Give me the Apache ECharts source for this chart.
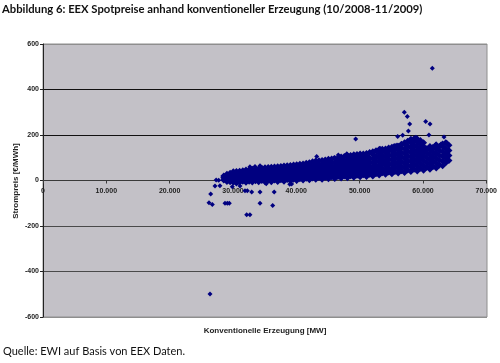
<!DOCTYPE html>
<html><head><meta charset="utf-8">
<script src="https://cdn.jsdelivr.net/npm/echarts@6/dist/echarts.min.js"></script>
<style>html,body{margin:0;padding:0;background:#fff}#c{width:500px;height:363px}</style>
</head><body><div id="c"></div>
<script>
const titel = 'Abbildung 6: EEX Spotpreise anhand konventioneller Erzeugung (10/2008-11/2009)';
const quelle = 'Quelle: EWI auf Basis von EEX Daten.';
const xAchsenName = 'Konventionelle Erzeugung [MW]';
const yAchsenName = 'Strompreis [€/MWh]';
const xTickWerte = [0, 10000, 20000, 30000, 40000, 50000, 60000, 70000];
const xTickLabels = ['0', '10.000', '20.000', '30.000', '40.000', '50.000', '60.000', '70.000'];
const yTickWerte = [-600, -400, -200, 0, 200, 400, 600];
const yTickLabels = ['-600', '-400', '-200', '0', '200', '400', '600'];

// dense cloud, read column by column (MW) with prices (EUR/MWh)
const wolkeMW = [28500, 29000, 29500, 30000, 30500, 31000, 31500, 32000, 32500, 33000, 33500, 34000, 34500, 35000, 35500, 36000, 36500, 37000, 37500, 38000, 38500, 39000, 39500, 40000, 40500, 41000, 41500, 42000, 42500, 43000, 43500, 44000, 44500, 45000, 45500, 46000, 46500, 47000, 47500, 48000, 48500, 49000, 49500, 50000, 50500, 51000, 51500, 52000, 52500, 53000, 53500, 54000, 54500, 55000, 55500, 56000, 56500, 57000, 57500, 58000, 58500, 59000, 59500, 60000, 60500, 61000, 61500, 62000, 62500, 63000, 63500, 64000];
const wolkePreise = [
  [2, 12, 20],
  [-4, 8, 20, 28],
  [-6, 4, 14, 24, 32],
  [-8, 3, 15, 27, 38],
  [-4, 8, 20, 32, 40],
  [-8, 4, 16, 28, 41],
  [-3, 9, 21, 33, 43],
  [-8, 4, 16, 28, 40, 46],
  [-3, 10, 22, 34, 47],
  [-7, 6, 19, 32, 44, 49],
  [-1, 12, 25, 38, 50],
  [-6, 7, 20, 33, 46, 52],
  [0, 13, 26, 40, 54],
  [-6, 8, 22, 36, 49, 56],
  [1, 15, 29, 43, 57],
  [-5, 9, 23, 37, 51, 58],
  [2, 16, 30, 44, 59],
  [-4, 10, 24, 38, 52, 60],
  [3, 17, 31, 45, 62],
  [-3, 11, 25, 39, 53, 64],
  [4, 18, 32, 46, 60, 65],
  [-1, 12, 26, 40, 54, 66],
  [6, 20, 34, 48, 62, 68],
  [0, 14, 28, 42, 56, 69],
  [8, 22, 36, 50, 64, 71],
  [2, 16, 30, 44, 58, 73],
  [10, 24, 38, 52, 66, 76],
  [3, 18, 33, 48, 63, 78],
  [11, 26, 41, 56, 71, 82],
  [5, 20, 35, 50, 65, 80, 86],
  [13, 28, 43, 58, 73, 87],
  [6, 22, 38, 54, 70, 88],
  [14, 30, 46, 62, 78, 90],
  [8, 24, 40, 56, 72, 88, 93],
  [16, 32, 48, 64, 80, 95],
  [9, 26, 43, 60, 77, 97],
  [18, 35, 52, 69, 86, 99],
  [11, 28, 45, 62, 79, 96, 103],
  [20, 37, 54, 71, 88, 106],
  [12, 30, 48, 66, 84, 102, 109],
  [21, 39, 57, 75, 93, 110],
  [14, 32, 50, 68, 86, 104, 113],
  [23, 41, 59, 77, 95, 114],
  [16, 34, 52, 70, 88, 106, 117],
  [25, 43, 61, 79, 97, 117],
  [18, 36, 54, 72, 90, 108, 119],
  [27, 45, 63, 81, 99, 123],
  [20, 39, 58, 77, 96, 115, 126],
  [30, 49, 68, 87, 106, 131],
  [24, 43, 62, 81, 100, 119, 136],
  [34, 53, 72, 91, 110, 129, 137],
  [28, 47, 66, 85, 104, 123, 139],
  [37, 56, 75, 94, 113, 132, 143],
  [30, 50, 70, 90, 110, 130, 146],
  [40, 60, 80, 100, 120, 140, 149],
  [33, 53, 73, 93, 113, 133, 151],
  [43, 63, 83, 103, 123, 143, 159],
  [35, 56, 77, 98, 119, 140, 161, 166],
  [46, 67, 88, 109, 130, 151, 173],
  [40, 61, 82, 103, 124, 145, 166, 181],
  [50, 71, 92, 113, 134, 155, 176, 183],
  [42, 63, 84, 105, 126, 147, 168, 182],
  [54, 75, 96, 117, 138, 159, 176],
  [45, 66, 87, 108, 129, 150, 166],
  [58, 79, 100, 121, 140],
  [50, 71, 92, 113, 134, 150],
  [62, 83, 104, 125, 146],
  [55, 76, 97, 118, 139, 156],
  [68, 89, 110, 131, 150],
  [65, 86, 107, 128, 149, 160],
  [78, 99, 120, 141, 166],
  [88, 110, 132, 155]
];

const ausreisserUnten = [
  [26330, -499], [26170, -98], [26690, -106], [26440, -59], [27120, -24], [27900, -23],
  [27300, 2], [27700, 1], [28690, -100], [29060, -100], [29370, -100], [29850, -27],
  [31060, -24], [31850, -45], [32210, -45], [32900, -50], [34210, -51], [36450, -51],
  [34210, -100], [36210, -110], [32110, -151], [32630, -150], [38900, -17], [39200, -15],
  [30500, -15], [35200, -14]
];
const ausreisserOben = [
  [61380, 493], [56960, 300], [57440, 281], [57810, 248], [57600, 218], [60330, 259],
  [61010, 248], [60850, 200], [63220, 191], [55920, 193], [56710, 199], [49300, 182],
  [55340, 153], [55810, 156], [58800, 190], [63640, 168], [62750, 160], [61960, 160],
  [43150, 105], [46560, 112], [33420, 61], [34210, 65], [32630, 60], [53130, 142],
  [47900, 118], [45900, 100]
];

const wolke = [];
wolkeMW.forEach((mw, i) => wolkePreise[i].forEach(p => wolke.push([mw, p])));

const chart = echarts.init(document.getElementById('c'), null, {renderer: 'canvas'});
const achsenFont = {fontFamily: 'Liberation Sans, Arial, sans-serif', fontWeight: 'bold', fontSize: 7, color: '#222'};
const L = 43, R = 13, T = 44, B = 46;
const plotH = 363 - T - B;
chart.setOption({
  animation: false,
  backgroundColor: '#fff',
  grid: [
    {left: L, right: R, top: T, bottom: B, show: true, backgroundColor: '#c3c1c7', borderColor: '#8e8e8e', borderWidth: 1},
    {left: L, right: R, top: T, height: plotH / 2, show: false}
  ],
  xAxis: [
    {type: 'value', gridIndex: 0, min: 0, max: 70000, interval: 10000, show: false},
    {
      type: 'value', gridIndex: 1, position: 'bottom', min: 0, max: 70000, interval: 10000, z: 1,
      axisLine: {show: true, onZero: false, lineStyle: {color: '#3a3a3a', width: 1}},
      axisTick: {show: true, length: 3, lineStyle: {color: '#3a3a3a'}},
      axisLabel: Object.assign({margin: 7, formatter: v => xTickLabels[xTickWerte.indexOf(v)] || ''}, achsenFont),
      splitLine: {show: false}
    }
  ],
  yAxis: [
    {
      type: 'value', gridIndex: 0, min: -600, max: 600, interval: 200,
      axisLine: {show: true, onZero: false, lineStyle: {color: '#222', width: 1}},
      axisTick: {show: true, length: 3, lineStyle: {color: '#222'}},
      axisLabel: Object.assign({margin: 4, formatter: v => yTickLabels[yTickWerte.indexOf(v)] || ''}, achsenFont),
      splitLine: {show: true, lineStyle: {width: 1, color: ['#8e8e8e', '#4a4a4a', '#4a4a4a', '#3a3a3a', '#111', '#111', '#8e8e8e']}}
    },
    {type: 'value', gridIndex: 1, min: 0, max: 600, show: false}
  ],
  series: [
    {type: 'scatter', xAxisIndex: 0, yAxisIndex: 0, z: 3, data: wolke, symbol: 'diamond', symbolSize: 7, itemStyle: {color: '#000080', opacity: 1}, silent: true},
    {type: 'scatter', xAxisIndex: 0, yAxisIndex: 0, z: 3, data: ausreisserUnten.concat(ausreisserOben), symbol: 'diamond', symbolSize: 5, itemStyle: {color: '#000080', opacity: 1}, silent: true}
  ],
  graphic: [
    {type: 'text', left: 2, top: 4, style: {text: titel, font: 'bold 11.25px Lato, sans-serif', fill: '#111'}},
    {type: 'text', left: 3, top: 346, style: {text: quelle, font: '11px Lato, sans-serif', fill: '#111'}},
    {type: 'text', x: 265, y: 331, style: {text: xAchsenName, font: 'bold 8px "Liberation Sans", Arial, sans-serif', fill: '#222', align: 'center', verticalAlign: 'middle'}},
    {type: 'text', x: 16, y: 181, rotation: Math.PI / 2, style: {text: yAchsenName, font: 'bold 8px "Liberation Sans", Arial, sans-serif', fill: '#222', align: 'center', verticalAlign: 'middle'}}
  ]
});
</script></body></html>
